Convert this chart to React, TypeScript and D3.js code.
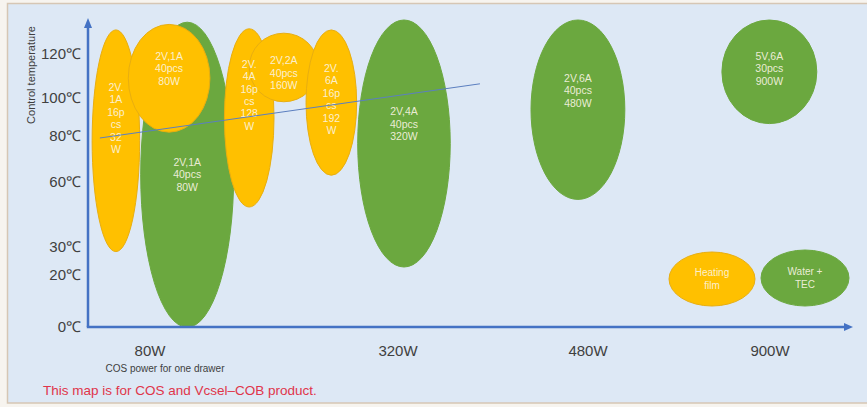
import React from "react";
import * as d3 from "d3";

// Axis tick labels (non-uniform placement, as in the source)
const tempTicks = [0, 20, 30, 60, 80, 100, 120];
const tempTickPx = [326, 274, 246, 181, 135, 97, 53];
const powerTicks = [80, 320, 480, 900];
const powerTickPx = [150, 398, 588, 770];

// Region ellipses: power extent (axis units), temperature extent (℃)
const regionLabels = [
  ["2V,1A", "40pcs", "80W"],
  ["2V.", "1A", "16p", "cs", "32", "W"],
  ["2V,1A", "40pcs", "80W"],
  ["2V.", "4A", "16p", "cs", "128", "W"],
  ["2V,2A", "40pcs", "160W"],
  ["2V.", "6A", "16p", "cs", "192", "W"],
  ["2V,4A", "40pcs", "320W"],
  ["2V,6A", "40pcs", "480W"],
  ["5V,6A", "30pcs", "900W"],
];
const regionType = ["water", "heat", "heat", "heat", "heat", "heat", "water", "water", "water"];
const regionPowerLo = [71, 24, 59, 152, 176, 231, 281, 432, 789];
const regionPowerHi = [161, 70, 138, 200, 243, 280, 364, 565, 1008];
const regionTempLo = [-0.5, 28, 81.5, 48, 97.5, 62.5, 22.5, 51.5, 86];
const regionTempHi = [134, 130.5, 133, 131, 129, 130.5, 135, 135, 135];
const regionTextTemp = [63, 89, 113, 101, 111, 99, 86, 103, 113];

// Trend line (power, ℃)
const trendPower = [31.5, 389];
const trendTemp = [78.7, 106];

const legendLabels = [["Heating", "film"], ["Water +", "TEC"]];
const legendType = ["heat", "water"];

const W = 867;
const H = 407;
const colors: Record<string, string> = { heat: "#FFC000", water: "#6BA83F" };
const strokes: Record<string, string> = { heat: "#E8AE10", water: "#6BA83F" };

export default function App() {
  const y = d3.scaleLinear().domain(tempTicks).range(tempTickPx);
  const x = d3.scaleLinear().domain(powerTicks).range(powerTickPx);
  const axisColor = "#4472C4";
  const x0 = 88;
  const yBase = 327;
  const line = d3
    .line<number>()
    .x((d, i) => x(trendPower[i]))
    .y((d, i) => y(trendTemp[i]));

  const ellipses = regionLabels.map((lab, i) => {
    const l = x(regionPowerLo[i]);
    const r = x(regionPowerHi[i]);
    const t = y(regionTempHi[i]);
    const b = y(regionTempLo[i]);
    return { lab, type: regionType[i], cx: (l + r) / 2, cy: (t + b) / 2, rx: (r - l) / 2, ry: (b - t) / 2, ty: y(regionTextTemp[i]) };
  });
  const lineH = 12.4;

  const legend = [
    { cx: 712, cy: 279, rx: 43, ry: 27 },
    { cx: 805, cy: 278, rx: 44, ry: 28 },
  ];

  return (
    <svg
      width={W}
      height={H}
      style={{ position: "absolute", left: 0, top: 0, display: "block" }}
      fontFamily="'Liberation Sans', Arial, sans-serif"
    >
      <rect x={0} y={0} width={W} height={H} fill="#f7f4ef" />
      <rect x={7.5} y={3.5} width={W} height={399.5} fill="#dde8f5" stroke="#d6c6b4" strokeWidth={1.5} />

      {ellipses.map((e, i) => (
        <ellipse
          key={i}
          cx={e.cx}
          cy={e.cy}
          rx={e.rx}
          ry={e.ry}
          fill={colors[e.type]}
          stroke={strokes[e.type]}
          strokeWidth={1}
        />
      ))}
      {ellipses.map((e, i) => (
        <g key={i}>
          {e.lab.map((s, j) => (
            <text
              key={j}
              x={e.cx}
              y={e.ty + (j - (e.lab.length - 1) / 2) * lineH}
              textAnchor="middle"
              dominantBaseline="central"
              fontSize={10.5}
              fill="#fbf6e6"
              fillOpacity={0.9}
            >
              {s}
            </text>
          ))}
        </g>
      ))}

      <path d={line([0, 1]) || ""} stroke="#5b7fc0" strokeWidth={1} fill="none" />

      {legend.map((g, i) => (
        <g key={i}>
          <ellipse cx={g.cx} cy={g.cy} rx={g.rx} ry={g.ry} fill={colors[legendType[i]]} stroke={strokes[legendType[i]]} />
          {legendLabels[i].map((s, j) => (
            <text
              key={j}
              x={g.cx}
              y={g.cy + (j - 0.5) * 12.5}
              textAnchor="middle"
              dominantBaseline="central"
              fontSize={10}
              fill="#fbf6e6"
              fillOpacity={0.9}
            >
              {s}
            </text>
          ))}
        </g>
      ))}

      {/* axes */}
      <line x1={x0} y1={yBase} x2={x0} y2={27} stroke={axisColor} strokeWidth={2.5} />
      <path d={`M${x0 - 4},${28} L${x0},${18} L${x0 + 4},${28} Z`} fill={axisColor} />
      <line x1={x0 - 1.2} y1={yBase} x2={845} y2={yBase} stroke={axisColor} strokeWidth={2.5} />
      <path d={`M844,${yBase - 4} L853,${yBase} L844,${yBase + 4} Z`} fill={axisColor} />

      {tempTicks.map((t) => (
        <text key={t} x={81} y={y(t)} textAnchor="end" dominantBaseline="central" fontSize={15} fill="#404040">
          {`${t}℃`}
        </text>
      ))}
      {powerTicks.map((p) => (
        <text key={p} x={x(p)} y={350} textAnchor="middle" dominantBaseline="central" fontSize={15} fill="#404040">
          {`${p}W`}
        </text>
      ))}
      <text
        transform={`translate(31,75) rotate(-90)`}
        textAnchor="middle"
        dominantBaseline="central"
        fontSize={11}
        fill="#404040"
      >
        Control temperature
      </text>
      <text x={165} y={368} textAnchor="middle" dominantBaseline="central" fontSize={10} fill="#404040">
        COS power for one drawer
      </text>
      <text x={43} y={390} dominantBaseline="central" fontSize={13.5} fill="#e0354a">
        This map is for COS and Vcsel–COB product.
      </text>
    </svg>
  );
}
